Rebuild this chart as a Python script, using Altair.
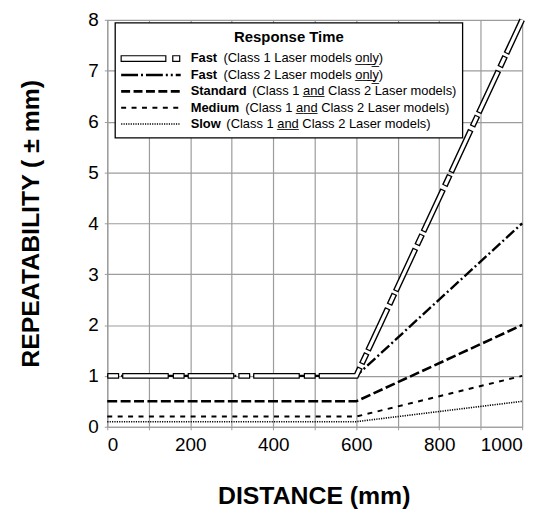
import altair as alt
import pandas as pd

# ---- data ----
distance = [0, 600, 1000]
fast_class1 = [1.0, 1.0, 8.0]
fast_class2 = [1.0, 1.0, 4.0]
standard = [0.5, 0.5, 2.0]
medium = [0.2, 0.2, 1.0]
slow = [0.1, 0.1, 0.5]

series_keys = ["fast1", "fast2", "standard", "medium", "slow"]
series_vals = [fast_class1, fast_class2, standard, medium, slow]

UL = "\u0332"
def underline(w):
    return "".join(c + UL for c in w)

legend_title = "Response Time"
legend_names = ["Fast", "Fast", "Standard", "Medium", "Slow"]
legend_desc = [
    "(Class 1 Laser models " + underline("only") + ")",
    "(Class 2 Laser models " + underline("only") + ")",
    "(Class 1 " + underline("and") + " Class 2 Laser models)",
    "(Class 1 " + underline("and") + " Class 2 Laser models)",
    "(Class 1 " + underline("and") + " Class 2 Laser models)",
]

x_ticks = list(range(0, 1001, 100))
y_ticks = [i * 0.5 for i in range(17)]

rows = []
for k, vals in zip(series_keys, series_vals):
    for d, v in zip(distance, vals):
        rows.append({"series": k, "distance": d, "rep": v})
df = pd.DataFrame(rows)

FONT = "Liberation Sans"
GRID = "#9c9c9c"
PW, PH = 418, 410

x_enc = alt.X(
    "distance:Q",
    scale=alt.Scale(domain=[0, 1000], nice=False),
    axis=alt.Axis(
        values=x_ticks, format="d",
        labelExpr="datum.value % 200 == 0 ? datum.label : ''",
        title="DISTANCE (mm)", titleX=208, titleY=69, titleBaseline="middle",
        titleAlign="center",
    ),
)
y_enc = alt.Y(
    "rep:Q",
    scale=alt.Scale(domain=[0, 8], nice=False),
    axis=alt.Axis(
        values=y_ticks, format="d",
        labelExpr="datum.value % 1 == 0 ? datum.label : ''",
        title="REPEATABILITY ( \u00b1 mm)", titleX=-77, titleY=PH / 2,
        titleAngle=-90, titleBaseline="middle", titleAlign="center",
    ),
)

base = alt.Chart(df)

def series_line(key, **kw):
    return base.transform_filter(alt.datum.series == key).mark_line(
        color="black", strokeCap="butt", strokeJoin="miter", **kw
    ).encode(x=x_enc, y=y_enc)

one = pd.DataFrame({"a": [0]})

# legend layout (pixel positions inside the plot area)
row_y = [39, 55.5, 72, 88.5, 105]
desc_x = [117, 117, 146, 139, 120]

layers = []
# legend box
layers.append(alt.Chart(one).mark_rect(fill="white", stroke="black", strokeWidth=1.3).encode(
    x=alt.value(8), x2=alt.value(358), y=alt.value(3), y2=alt.value(119)))
layers.append(alt.Chart(one).mark_text(text=legend_title, font=FONT, fontSize=15, fontWeight="bold",
                                       align="center", baseline="middle", color="black").encode(
    x=alt.value(183), y=alt.value(17)))
# legend symbols
layers.append(alt.Chart(one).mark_rect(fill="white", stroke="black", strokeWidth=1.2).encode(
    x=alt.value(14), x2=alt.value(59), y=alt.value(row_y[0] - 2.8), y2=alt.value(row_y[0] + 2.8)))
layers.append(alt.Chart(one).mark_rect(fill="white", stroke="black", strokeWidth=1.2).encode(
    x=alt.value(66), x2=alt.value(73), y=alt.value(row_y[0] - 2.8), y2=alt.value(row_y[0] + 2.8)))
sym_styles = [
    None,
    dict(strokeDash=[17, 3, 2, 3, 17, 3, 2, 3, 2, 3], strokeWidth=2.5),
    dict(strokeDash=[9, 3.5], strokeWidth=2.8),
    dict(strokeDash=[5, 5.5], strokeWidth=2),
    dict(strokeDash=[1.2, 1.2], strokeWidth=1.6),
]
for i in range(1, 5):
    layers.append(alt.Chart(one).mark_rule(color="black", strokeCap="butt", **sym_styles[i]).encode(
        x=alt.value(14), x2=alt.value(74), y=alt.value(row_y[i])))
for i in range(5):
    layers.append(alt.Chart(one).mark_text(text=legend_names[i], font=FONT, fontSize=13, fontWeight="bold",
                                           align="left", baseline="middle", color="black").encode(
        x=alt.value(84), y=alt.value(row_y[i])))
    layers.append(alt.Chart(one).mark_text(text=legend_desc[i], font=FONT, fontSize=13,
                                           align="left", baseline="middle", color="black").encode(
        x=alt.value(desc_x[i]), y=alt.value(row_y[i])))

# data lines
layers.append(series_line("slow", strokeWidth=1.6, strokeDash=[1.2, 1.2]))
layers.append(series_line("medium", strokeWidth=2, strokeDash=[5, 5.5]))
layers.append(series_line("standard", strokeWidth=2.6, strokeDash=[10, 3.5]))
layers.append(series_line("fast2", strokeWidth=2.4, strokeDash=[11, 3, 2, 3]))
layers.append(series_line("fast1", strokeWidth=6, strokeDash=[12, 3, 47, 4]))
fast1_inner = base.transform_filter(alt.datum.series == "fast1").mark_line(
    color="white", strokeCap="butt", strokeJoin="miter", strokeWidth=3.2,
    strokeDash=[9.6, 5.4, 44.6, 6.4], strokeDashOffset=64.8,
).encode(x=x_enc, y=y_enc)
layers.append(fast1_inner)

chart = alt.layer(*layers).properties(
    width=PW, height=PH,
    autosize=alt.AutoSizeParams(type="none"),
    padding={"left": 100, "top": 10, "right": 22, "bottom": 86},
).configure_view(stroke=None).configure_axis(
    gridColor=GRID, gridWidth=1.2, domainColor=GRID, domainWidth=1.2,
    tickColor=GRID, tickSize=3, tickWidth=1,
    labelFont=FONT, labelFontSize=19, labelColor="black",
    titleFont=FONT, titleFontSize=25, titleFontWeight="bold", titleColor="black",
).configure_axisX(labelPadding=6).configure_axisY(labelPadding=6)

chart.save("out.html", embed_options={"renderer": "svg", "actions": False})
